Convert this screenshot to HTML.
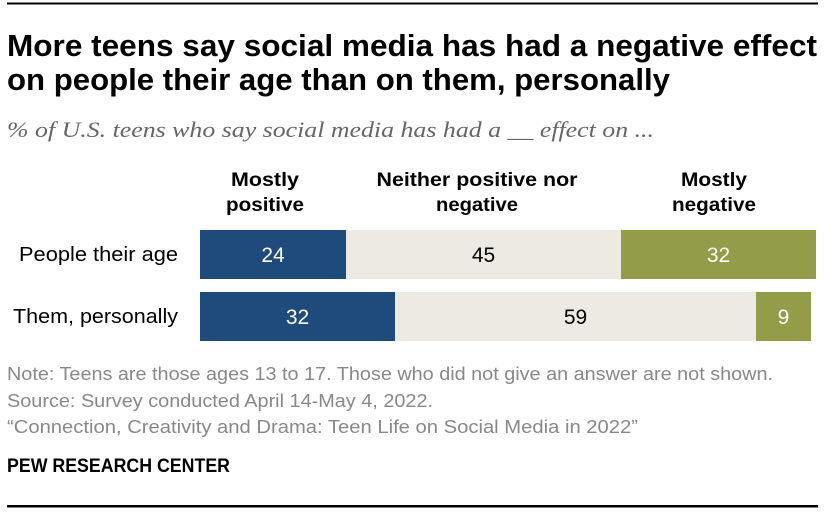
<!DOCTYPE html>
<html>
<head>
<meta charset="utf-8">
<style>
  html, body { margin:0; padding:0; background:#ffffff; }
  body { width:840px; height:516px; overflow:hidden; }
  svg { display:block; }
  .sans { font-family: "Liberation Sans", "DejaVu Sans", sans-serif; }
  .serif { font-family: "Liberation Serif", "DejaVu Serif", serif; }
</style>
</head>
<body>
<svg width="840" height="516" viewBox="0 0 840 516" xmlns="http://www.w3.org/2000/svg">
  <!-- top rule -->
  <rect x="7" y="2.5" width="811" height="2" fill="#000"/>

  <!-- title -->
  <text class="sans" x="7" y="56" font-size="31" font-weight="bold" fill="#000" textLength="810" lengthAdjust="spacingAndGlyphs">More teens say social media has had a negative effect</text>
  <text class="sans" x="7" y="90" font-size="31" font-weight="bold" fill="#000" textLength="663" lengthAdjust="spacingAndGlyphs">on people their age than on them, personally</text>

  <!-- subtitle -->
  <text class="serif" x="7" y="137" font-size="22" font-style="italic" fill="#666" textLength="647" lengthAdjust="spacingAndGlyphs">% of U.S. teens who say social media has had a __ effect on ...</text>

  <!-- column headers -->
  <g class="sans" font-size="19" font-weight="bold" fill="#000" text-anchor="middle">
    <text x="265" y="186" textLength="68" lengthAdjust="spacingAndGlyphs">Mostly</text>
    <text x="265" y="211" textLength="78" lengthAdjust="spacingAndGlyphs">positive</text>
    <text x="477" y="186" textLength="201" lengthAdjust="spacingAndGlyphs">Neither positive nor</text>
    <text x="477" y="211" textLength="82" lengthAdjust="spacingAndGlyphs">negative</text>
    <text x="714" y="186" textLength="66" lengthAdjust="spacingAndGlyphs">Mostly</text>
    <text x="714" y="211" textLength="84" lengthAdjust="spacingAndGlyphs">negative</text>
  </g>

  <!-- row labels -->
  <g class="sans" font-size="20" fill="#000" text-anchor="end">
    <text x="178" y="261" textLength="159" lengthAdjust="spacingAndGlyphs">People their age</text>
    <text x="178" y="323" textLength="165" lengthAdjust="spacingAndGlyphs">Them, personally</text>
  </g>

  <!-- bars row 1 -->
  <rect x="200" y="230" width="146" height="49" fill="#1f4a7c"/>
  <rect x="346" y="230" width="275" height="49" fill="#edeae3"/>
  <rect x="621" y="230" width="195" height="49" fill="#939c48"/>
  <!-- bars row 2 -->
  <rect x="200" y="292" width="195" height="49" fill="#1f4a7c"/>
  <rect x="395" y="292" width="361" height="49" fill="#edeae3"/>
  <rect x="756" y="292" width="55" height="49" fill="#939c48"/>

  <!-- bar values -->
  <g class="sans" font-size="21" text-anchor="middle">
    <text x="273" y="262" fill="#fff">24</text>
    <text x="483.5" y="262" fill="#000">45</text>
    <text x="718.5" y="262" fill="#fff">32</text>
    <text x="297.5" y="324" fill="#fff">32</text>
    <text x="575.5" y="324" fill="#000">59</text>
    <text x="783.5" y="324" fill="#fff">9</text>
  </g>

  <!-- notes -->
  <g class="sans" font-size="18" fill="#888">
    <text x="7" y="380" textLength="766" lengthAdjust="spacingAndGlyphs">Note: Teens are those ages 13 to 17. Those who did not give an answer are not shown.</text>
    <text x="7" y="407" textLength="426" lengthAdjust="spacingAndGlyphs">Source: Survey conducted April 14-May 4, 2022.</text>
    <text x="7" y="433" textLength="631" lengthAdjust="spacingAndGlyphs">“Connection, Creativity and Drama: Teen Life on Social Media in 2022”</text>
  </g>

  <text class="sans" x="7" y="472" font-size="19" font-weight="bold" fill="#000" textLength="223" lengthAdjust="spacingAndGlyphs">PEW RESEARCH CENTER</text>

  <!-- bottom rule -->
  <rect x="7" y="505" width="811" height="2.5" fill="#000"/>
</svg>
</body>
</html>
